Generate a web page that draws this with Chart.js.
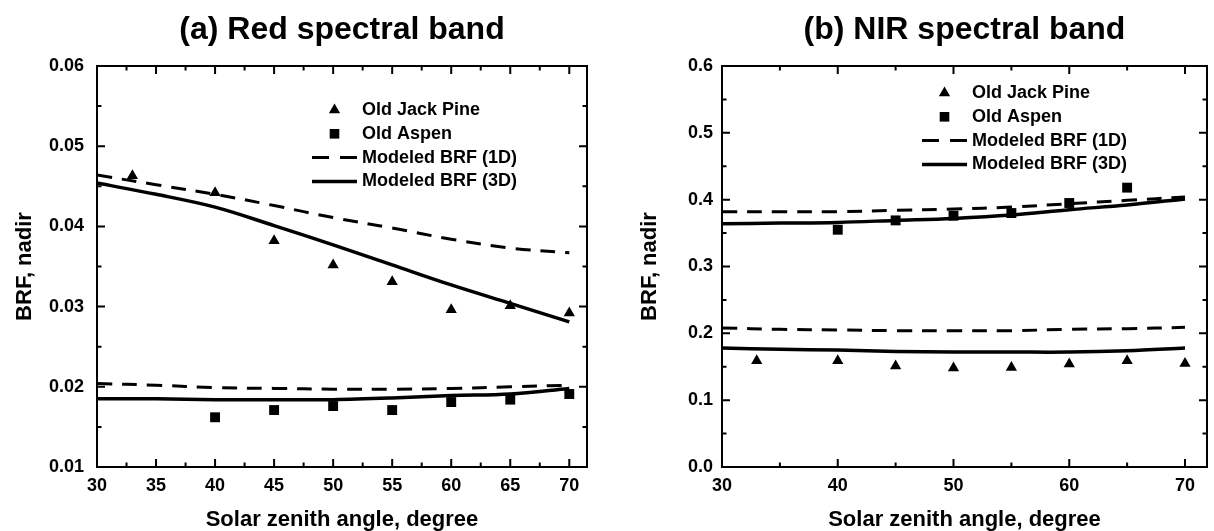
<!DOCTYPE html>
<html lang="en">
<head>
<meta charset="UTF-8">
<title>BRF vs solar zenith angle</title>
<script src="https://cdn.jsdelivr.net/npm/chart.js"></script>
<style>
    body {
        margin: 0;
        background: #fff;
    }
    .panel {
        position: absolute;
        top: 0;
        width: 607px;
        height: 531px;
    }
    #left { left: 0; }
    #right { left: 607px; }
</style>
</head>
<body>

<div class="panel" id="left"><canvas id="red" width="607" height="531"></canvas></div>
<div class="panel" id="right"><canvas id="nir" width="607" height="531"></canvas></div>

<script>
    // solar zenith angles
    const modelAngles = [30, 35, 40, 45, 50, 55, 60, 65, 70];
    const pineAngles = [33, 40, 45, 50, 55, 60, 65, 70];
    const aspenAngles = [40, 45, 50, 55, 60, 65, 70];
    const nirAspenAngles = [40, 45, 50, 55, 60, 65];

    // (a) red band
    const redPine = [0.0463, 0.0442, 0.0382, 0.0352, 0.0331, 0.0296, 0.0301, 0.0292];
    const redAspen = [0.0162, 0.0171, 0.0176, 0.0171, 0.0181, 0.0184, 0.0191];
    const redPine1D = [0.0464, 0.0452, 0.0440, 0.0426, 0.0411, 0.0398, 0.0384, 0.0373, 0.0367];
    const redPine3D = [0.0454, 0.0440, 0.0424, 0.0401, 0.0377, 0.0352, 0.0327, 0.0304, 0.0281];
    const redAspen1D = [0.0204, 0.0202, 0.0199, 0.0198, 0.0197, 0.0197, 0.0198, 0.0200, 0.0202];
    const redAspen3D = [0.0185, 0.0185, 0.0184, 0.0184, 0.0184, 0.0186, 0.0189, 0.0191, 0.0198];

    // (b) NIR band
    const nirPine = [0.159, 0.159, 0.151, 0.148, 0.149, 0.154, 0.159, 0.155];
    const nirAspen = [0.355, 0.369, 0.376, 0.380, 0.395, 0.418];
    const nirAspen1D = [0.382, 0.382, 0.382, 0.384, 0.386, 0.389, 0.394, 0.399, 0.404];
    const nirAspen3D = [0.364, 0.365, 0.366, 0.369, 0.372, 0.377, 0.385, 0.392, 0.401];
    const nirPine1D = [0.208, 0.206, 0.205, 0.204, 0.204, 0.204, 0.206, 0.207, 0.209];
    const nirPine3D = [0.178, 0.176, 0.175, 0.173, 0.172, 0.172, 0.172, 0.174, 0.178];

    const legendLabels = ['Old Jack Pine', 'Old Aspen', 'Modeled BRF (1D)', 'Modeled BRF (3D)'];

    const FONT = "'Liberation Sans', Arial, sans-serif";
    const DASH = [15, 10];
    Chart.defaults.font.family = FONT;
    Chart.defaults.color = '#000';

    function pts(xs, ys) {
        return xs.map((x, i) => ({ x: x, y: ys[i] }));
    }

    function markers(xs, ys, style, r) {
        return {
            data: pts(xs, ys),
            showLine: false,
            pointStyle: style,
            pointRadius: r,
            backgroundColor: '#000',
            borderColor: '#000',
            borderWidth: 0
        };
    }

    function model(ys, dashed) {
        return {
            data: pts(modelAngles, ys),
            showLine: true,
            pointRadius: 0,
            borderColor: '#000',
            borderWidth: dashed ? 3 : 3.5,
            borderDash: dashed ? DASH : [],
            tension: 0.35,
            fill: false
        };
    }

    function triangle(ctx, x, y, r) {
        ctx.beginPath();
        for (let k = 0; k < 3; k++) {
            const a = k * 2 * Math.PI / 3;
            const px = x + Math.sin(a) * r, py = y - Math.cos(a) * r;
            if (k === 0) ctx.moveTo(px, py); else ctx.lineTo(px, py);
        }
        ctx.closePath();
        ctx.fill();
    }

    // box, inward ticks, panel title and legend
    const framePlugin = {
        id: 'frame',
        afterDatasetsDraw(chart) {
            const ctx = chart.ctx;
            const a = chart.chartArea;
            const xs = chart.scales.x, ys = chart.scales.y;
            const mids = v => v.slice(1).map((t, i) => (t + v[i]) / 2);
            const xt = xs.ticks.map(t => t.value);
            const yt = ys.ticks.map(t => t.value);

            ctx.save();
            ctx.strokeStyle = '#000';
            ctx.lineWidth = 2;
            ctx.strokeRect(a.left, a.top, a.right - a.left, a.bottom - a.top);

            ctx.beginPath();
            const tx = (v, len) => {
                const p = xs.getPixelForValue(v);
                ctx.moveTo(p, a.bottom); ctx.lineTo(p, a.bottom - len);
                ctx.moveTo(p, a.top); ctx.lineTo(p, a.top + len);
            };
            const ty = (v, len) => {
                const p = ys.getPixelForValue(v);
                ctx.moveTo(a.left, p); ctx.lineTo(a.left + len, p);
                ctx.moveTo(a.right, p); ctx.lineTo(a.right - len, p);
            };
            xt.forEach(v => tx(v, 8));
            mids(xt).forEach(v => tx(v, 4.5));
            yt.forEach(v => ty(v, 8));
            mids(yt).forEach(v => ty(v, 4.5));
            ctx.stroke();
            ctx.restore();
        },
        afterDraw(chart, args, o) {
            const ctx = chart.ctx;
            const a = chart.chartArea;
            ctx.save();
            ctx.fillStyle = '#000';
            ctx.strokeStyle = '#000';
            ctx.textAlign = 'center';
            ctx.textBaseline = 'alphabetic';
            ctx.font = 'bold 32px ' + FONT;
            ctx.fillText(o.title, (a.left + a.right) / 2, 39);

            ctx.textAlign = 'left';
            ctx.textBaseline = 'middle';
            ctx.font = 'bold 18px ' + FONT;
            legendLabels.forEach((label, i) => {
                const cy = o.legendY + i * 23.8;
                const x0 = o.legendX, x1 = x0 + 45, cx = (x0 + x1) / 2;
                if (i === 0) {
                    triangle(ctx, cx, cy, 6.5);
                } else if (i === 1) {
                    ctx.fillRect(cx - 4.8, cy - 4.8, 9.6, 9.6);
                } else {
                    ctx.lineWidth = i === 2 ? 3 : 3.5;
                    ctx.setLineDash(i === 2 ? [17, 11] : []);
                    ctx.beginPath();
                    ctx.moveTo(x0, cy);
                    ctx.lineTo(x1, cy);
                    ctx.stroke();
                    ctx.setLineDash([]);
                }
                ctx.fillText(label, x1 + 5, cy);
            });
            ctx.restore();
        }
    };

    function makeChart(id, cfg) {
        return new Chart(document.getElementById(id), {
            type: 'scatter',
            data: { datasets: cfg.datasets },
            options: {
                responsive: false,
                animation: false,
                events: [],
                layout: { padding: { top: 66, right: cfg.padRight, bottom: 0, left: 0 } },
                plugins: {
                    legend: { display: false },
                    tooltip: { enabled: false },
                    frame: { title: cfg.title, legendX: cfg.legendX, legendY: cfg.legendY }
                },
                scales: {
                    x: {
                        type: 'linear',
                        min: 30,
                        max: cfg.xMax,
                        grid: { display: false, drawTicks: false },
                        border: { display: false },
                        ticks: {
                            stepSize: cfg.xStep,
                            includeBounds: false,
                            autoSkip: false,
                            maxRotation: 0,
                            padding: 8,
                            color: '#000',
                            font: { size: 18, weight: 'bold' }
                        },
                        title: {
                            display: true,
                            text: 'Solar zenith angle, degree',
                            color: '#000',
                            font: { size: 22, weight: 'bold', lineHeight: 1 },
                            padding: { top: 0, bottom: 0 }
                        },
                        afterFit(s) { s.height = 64; }
                    },
                    y: {
                        type: 'linear',
                        min: cfg.yMin,
                        max: cfg.yMax,
                        grid: { display: false, drawTicks: false },
                        border: { display: false },
                        ticks: {
                            stepSize: cfg.yStep,
                            includeBounds: false,
                            padding: cfg.yPad,
                            color: '#000',
                            font: { size: 18, weight: 'bold' },
                            callback: v => v.toFixed(cfg.digits)
                        },
                        title: {
                            display: true,
                            text: 'BRF, nadir',
                            color: '#000',
                            font: { size: 22, weight: 'bold', lineHeight: 1 },
                            padding: { top: cfg.yTitlePad, bottom: 0 }
                        },
                        afterFit(s) { s.width = cfg.yWidth; }
                    }
                }
            },
            plugins: [framePlugin]
        });
    }

    makeChart('red', {
        title: '(a) Red spectral band',
        datasets: [
            markers(pineAngles, redPine, 'triangle', 6.5),
            markers(aspenAngles, redAspen, 'rect', 7),
            model(redPine1D, true),
            model(redAspen1D, true),
            model(redPine3D, false),
            model(redAspen3D, false)
        ],
        xMax: 71.5, xStep: 5,
        yMin: 0.01, yMax: 0.06, yStep: 0.01, digits: 2,
        yWidth: 97, yPad: 13, yTitlePad: 14, padRight: 20,
        legendX: 312, legendY: 110
    });

    makeChart('nir', {
        title: '(b) NIR spectral band',
        datasets: [
            markers(pineAngles, nirPine, 'triangle', 6.5),
            markers(nirAspenAngles, nirAspen, 'rect', 7),
            model(nirAspen1D, true),
            model(nirPine1D, true),
            model(nirAspen3D, false),
            model(nirPine3D, false)
        ],
        xMax: 71.9, xStep: 10,
        yMin: 0, yMax: 0.6, yStep: 0.1, digits: 1,
        yWidth: 115, yPad: 9, yTitlePad: 32, padRight: 2,
        legendX: 315, legendY: 93
    });
</script>

</body>
</html>
